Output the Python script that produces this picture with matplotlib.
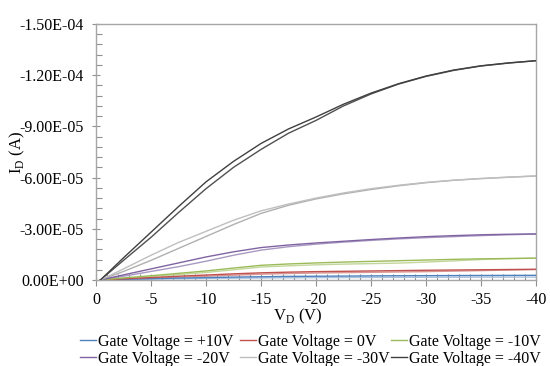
import matplotlib
matplotlib.use("Agg")
import matplotlib.pyplot as plt
from matplotlib.ticker import MultipleLocator, FuncFormatter, FixedLocator

plt.rcParams['font.family'] = ['Liberation Serif', 'DejaVu Serif']
plt.rcParams['mathtext.fontset'] = 'custom'
plt.rcParams['mathtext.rm'] = 'Liberation Serif'

# Drain voltage (V)
vd = [-0.4, -2.5, -5, -7.5, -10, -12.5, -15, -17.5, -20, -22.5, -25, -27.5,
      -30, -32.5, -35, -37.5, -40]

# Drain current (A): forward / reverse sweeps per gate voltage
id_p10_a = [0, -0.4e-6, -0.8e-6, -1.1e-6, -1.4e-6, -1.7e-6, -1.9e-6, -2.1e-6, -2.2e-6,
            -2.3e-6, -2.4e-6, -2.5e-6, -2.55e-6, -2.6e-6, -2.65e-6, -2.7e-6, -2.75e-6]
id_p10_b = [0, -0.25e-6, -0.5e-6, -0.7e-6, -0.9e-6, -1.05e-6, -1.2e-6, -1.3e-6, -1.4e-6,
            -1.45e-6, -1.5e-6, -1.55e-6, -1.6e-6, -1.62e-6, -1.65e-6, -1.68e-6, -1.7e-6]
id_0_a = [0, -0.7e-6, -1.4e-6, -2.2e-6, -2.9e-6, -3.6e-6, -4.2e-6, -4.6e-6, -4.9e-6,
          -5.1e-6, -5.3e-6, -5.5e-6, -5.7e-6, -5.85e-6, -6.0e-6, -6.15e-6, -6.3e-6]
id_0_b = [0, -0.5e-6, -1.0e-6, -1.6e-6, -2.2e-6, -2.8e-6, -3.4e-6, -3.8e-6, -4.1e-6,
          -4.3e-6, -4.5e-6, -4.7e-6, -4.9e-6, -5.2e-6, -5.5e-6, -5.8e-6, -6.1e-6]
id_m10_a = [0, -1.2e-6, -2.5e-6, -3.9e-6, -5.3e-6, -7.0e-6, -8.6e-6, -9.4e-6, -10.0e-6,
            -10.5e-6, -10.9e-6, -11.3e-6, -11.7e-6, -12.1e-6, -12.4e-6, -12.6e-6, -12.8e-6]
id_m10_b = [0, -0.9e-6, -2.0e-6, -3.2e-6, -4.4e-6, -6.0e-6, -7.6e-6, -8.3e-6, -8.9e-6,
            -9.3e-6, -9.6e-6, -9.9e-6, -10.5e-6, -11.2e-6, -12.0e-6, -12.5e-6, -12.8e-6]
id_m20_a = [0, -3.0e-6, -6.5e-6, -10.0e-6, -13.5e-6, -16.5e-6, -19.0e-6, -20.5e-6, -21.7e-6,
            -22.7e-6, -23.7e-6, -24.6e-6, -25.4e-6, -26.0e-6, -26.5e-6, -26.8e-6, -27.0e-6]
id_m20_b = [0, -2.2e-6, -5.0e-6, -7.8e-6, -11.0e-6, -14.5e-6, -17.5e-6, -19.5e-6, -21.0e-6,
            -22.2e-6, -23.2e-6, -24.1e-6, -24.8e-6, -25.4e-6, -26.0e-6, -26.5e-6, -26.9e-6]
id_m30_a = [0, -6.5e-6, -14.5e-6, -22.0e-6, -28.5e-6, -35.0e-6, -40.5e-6, -44.5e-6, -48.0e-6,
            -51.0e-6, -53.5e-6, -55.5e-6, -57.2e-6, -58.5e-6, -59.5e-6, -60.3e-6, -61.0e-6]
id_m30_b = [0, -5.0e-6, -11.5e-6, -18.5e-6, -25.5e-6, -32.5e-6, -39.0e-6, -43.8e-6, -47.5e-6,
            -50.5e-6, -53.0e-6, -55.2e-6, -57.0e-6, -58.4e-6, -59.4e-6, -60.2e-6, -60.9e-6]
id_m40_a = [0, -13.0e-6, -28.0e-6, -43.0e-6, -57.5e-6, -69.5e-6, -80.0e-6, -88.5e-6, -95.5e-6,
            -103.0e-6, -109.5e-6, -115.0e-6, -119.5e-6, -123.0e-6, -125.5e-6, -127.2e-6, -128.5e-6]
id_m40_b = [0, -11.5e-6, -25.0e-6, -39.5e-6, -53.5e-6, -66.0e-6, -76.5e-6, -86.0e-6, -93.5e-6,
            -102.0e-6, -109.0e-6, -114.8e-6, -119.3e-6, -122.8e-6, -125.4e-6, -127.1e-6, -128.5e-6]

labels = ['Gate Voltage = +10V', 'Gate Voltage = 0V', 'Gate Voltage = -10V',
          'Gate Voltage = -20V', 'Gate Voltage = -30V', 'Gate Voltage = -40V']
series_a = [id_p10_a, id_0_a, id_m10_a, id_m20_a, id_m30_a, id_m40_a]
series_b = [id_p10_b, id_0_b, id_m10_b, id_m20_b, id_m30_b, id_m40_b]
colors_a = ['#4F81BD', '#C0504D', '#9BBB59', '#8064A2', '#BFBFBF', '#404040']
colors_b = ['#A7C0DE', '#D99694', '#C3D69B', '#A899C2', '#B0B0B0', '#505050']

y_ticks = [0, -3e-5, -6e-5, -9e-5, -1.2e-4, -1.5e-4]
x_ticks = [0, -5, -10, -15, -20, -25, -30, -35, -40]

FS = 11.5

fig = plt.figure(figsize=(5.5, 3.66), dpi=100)
ax = fig.add_axes([96/550, 1-280/366, 440/550, 256/366])

handles = []
for ya, yb, ca, cb, lab in zip(series_a, series_b, colors_a, colors_b, labels):
    ax.plot(vd, yb, color=cb, lw=1.0, zorder=2)
    h, = ax.plot(vd, ya, color=ca, lw=1.0, zorder=3, label=lab)
    handles.append(h)

ax.set_xlim(0, -40)
ax.set_ylim(0, -1.5e-4)

ax.xaxis.set_major_locator(FixedLocator(x_ticks))
ax.xaxis.set_minor_locator(MultipleLocator(1))
ax.yaxis.set_major_locator(FixedLocator(y_ticks))
ax.yaxis.set_minor_locator(MultipleLocator(6e-6))

def yfmt(v, pos):
    if abs(v) < 1e-12:
        return '0.00E+00'
    return f'{v:.2E}'

def xfmt(v, pos):
    return f'{int(round(v))}'

ax.yaxis.set_major_formatter(FuncFormatter(yfmt))
ax.xaxis.set_major_formatter(FuncFormatter(xfmt))

spine_col = '#A6A6A6'
for s in ax.spines.values():
    s.set_color(spine_col)
    s.set_linewidth(1.0)

ax.tick_params(axis='x', which='major', direction='inout', length=9, width=0.8,
               color='#909090', labelsize=FS, pad=4)
ax.tick_params(axis='x', which='minor', direction='in', length=4, width=0.8, color='#909090')
ax.tick_params(axis='y', which='major', direction='inout', length=6, width=0.8,
               color='#909090', labelsize=FS, pad=6)
ax.tick_params(axis='y', which='minor', direction='in', length=4, width=0.8, color='#909090')

ax.set_xlabel(r'V$_\mathregular{D}$ (V)', fontsize=12)
ax.xaxis.set_label_coords((298-96)/440, -0.105)
ax.set_ylabel(r'I$_\mathregular{D}$ (A)', fontsize=12)
ax.yaxis.set_label_coords(-0.157, 0.5)

col_x = [80/550, 240/550, 391/550]
for i in range(3):
    fig.legend(handles=[handles[i], handles[i+3]],
               labels=[labels[i], labels[i+3]],
               loc='upper left', bbox_to_anchor=(col_x[i], 1-334/366),
               frameon=False, fontsize=FS, handlelength=1.0, handletextpad=0.1,
               labelspacing=0.05, borderpad=0.0, borderaxespad=0.0)

fig.savefig('out.png', dpi=100)
